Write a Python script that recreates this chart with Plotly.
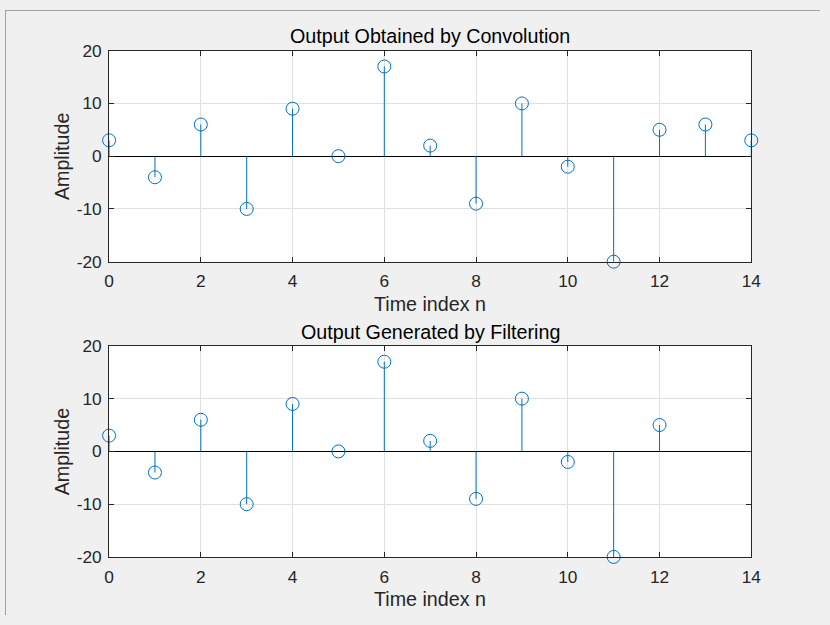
import plotly.graph_objects as go

n_conv = list(range(15))
y_conv = [3, -4, 6, -10, 9, 0, 17, 2, -9, 10, -2, -20, 5, 6, 3]
n_filt = list(range(13))
y_filt = [3, -4, 6, -10, 9, 0, 17, 2, -9, 10, -2, -20, 5]

titles = ["Output Obtained by Convolution", "Output Generated by Filtering"]
xlabel = "Time index n"
ylabel = "Amplitude"
xticks = [0, 2, 4, 6, 8, 10, 12, 14]
yticks = [-20, -10, 0, 10, 20]

W, H = 830, 625
BLUE = "#0072BD"
TXT = "#262626"
FONT = "Liberation Sans, Arial, sans-serif"
LAB = 19.7
TICK = 17.3

fig = go.Figure()

def stems(n, y, xa, ya):
    xs, ys = [], []
    for a, b in zip(n, y):
        xs += [a, a, None]
        ys += [0, b, None]
    fig.add_trace(go.Scatter(x=xs, y=ys, mode="lines", line=dict(color=BLUE, width=1),
                             xaxis=xa, yaxis=ya, showlegend=False, hoverinfo="skip"))
    fig.add_trace(go.Scatter(x=n, y=y, mode="markers",
                             marker=dict(symbol="circle-open", size=13, color=BLUE,
                                         line=dict(width=1, color=BLUE)),
                             xaxis=xa, yaxis=ya, showlegend=False, cliponaxis=False))

stems(n_conv, y_conv, "x", "y")
stems(n_filt, y_filt, "x2", "y2")

xdom = [106 / W, 760 / W]
panels = [(42, 260), (347, 565)]   # top / bottom pixel of each plot area
ydoms = [[(H - b) / H, (H - t) / H] for t, b in panels]

def xax(anchor):
    return dict(domain=xdom, anchor=anchor, range=[0, 14], tickvals=xticks,
                ticktext=[str(v) for v in xticks],
                showgrid=True, gridcolor="#e0e0e0", gridwidth=1,
                showline=True, linecolor=TXT, linewidth=1, mirror="ticks",
                ticks="inside", ticklen=5, tickcolor=TXT, zeroline=False,
                tickfont=dict(family=FONT, size=TICK, color=TXT), ticklabelstandoff=4)

def yax(anchor, dom):
    return dict(domain=dom, anchor=anchor, range=[-20, 20], tickvals=yticks,
                ticktext=[str(v) for v in yticks],
                showgrid=True, gridcolor="#e0e0e0", gridwidth=1,
                showline=True, linecolor=TXT, linewidth=1, mirror="ticks",
                ticks="inside", ticklen=5, tickcolor=TXT,
                zeroline=True, zerolinecolor="#000000", zerolinewidth=1,
                tickfont=dict(family=FONT, size=TICK, color=TXT), ticklabelstandoff=3)

title_y = [26.5, 332.5]
xlab_y = [304, 608.5]
annotations = []
for i, dom in enumerate(ydoms):
    annotations.append(dict(text=titles[i], x=(xdom[0] + xdom[1]) / 2, y=(H - title_y[i]) / H,
                            xref="paper", yref="paper", showarrow=False,
                            xanchor="center", yanchor="middle",
                            font=dict(family=FONT, size=LAB, color="#000000")))
    annotations.append(dict(text=xlabel, x=(xdom[0] + xdom[1]) / 2, y=(H - xlab_y[i]) / H,
                            xref="paper", yref="paper", showarrow=False,
                            xanchor="center", yanchor="middle",
                            font=dict(family=FONT, size=LAB, color=TXT)))
    annotations.append(dict(text=ylabel, x=58 / W, y=(dom[0] + dom[1]) / 2,
                            xref="paper", yref="paper", showarrow=False, textangle=-90,
                            xanchor="center", yanchor="middle",
                            font=dict(family=FONT, size=LAB, color=TXT)))

fig.update_layout(
    width=W, height=H, margin=dict(l=0, r=0, t=0, b=0),
    paper_bgcolor="#f0f0f0", plot_bgcolor="#ffffff",
    xaxis=xax("y"), yaxis=yax("x", ydoms[0]),
    xaxis2=xax("y2"), yaxis2=yax("x2", ydoms[1]),
    annotations=annotations,
    shapes=[
        dict(type="line", xref="paper", yref="paper", x0=0, x1=1, y0=(H - 0.5) / H, y1=(H - 0.5) / H,
             line=dict(color="#a0a0a0", width=1)),
        dict(type="line", xref="paper", yref="paper", x0=0.5 / W, x1=0.5 / W, y0=0.0, y1=1,
             line=dict(color="#a0a0a0", width=1)),
    ],
    showlegend=False,
)

fig.write_html("out.html", config={"displayModeBar": False},
               post_script="document.body.style.margin='0';document.body.style.overflow='hidden';")
